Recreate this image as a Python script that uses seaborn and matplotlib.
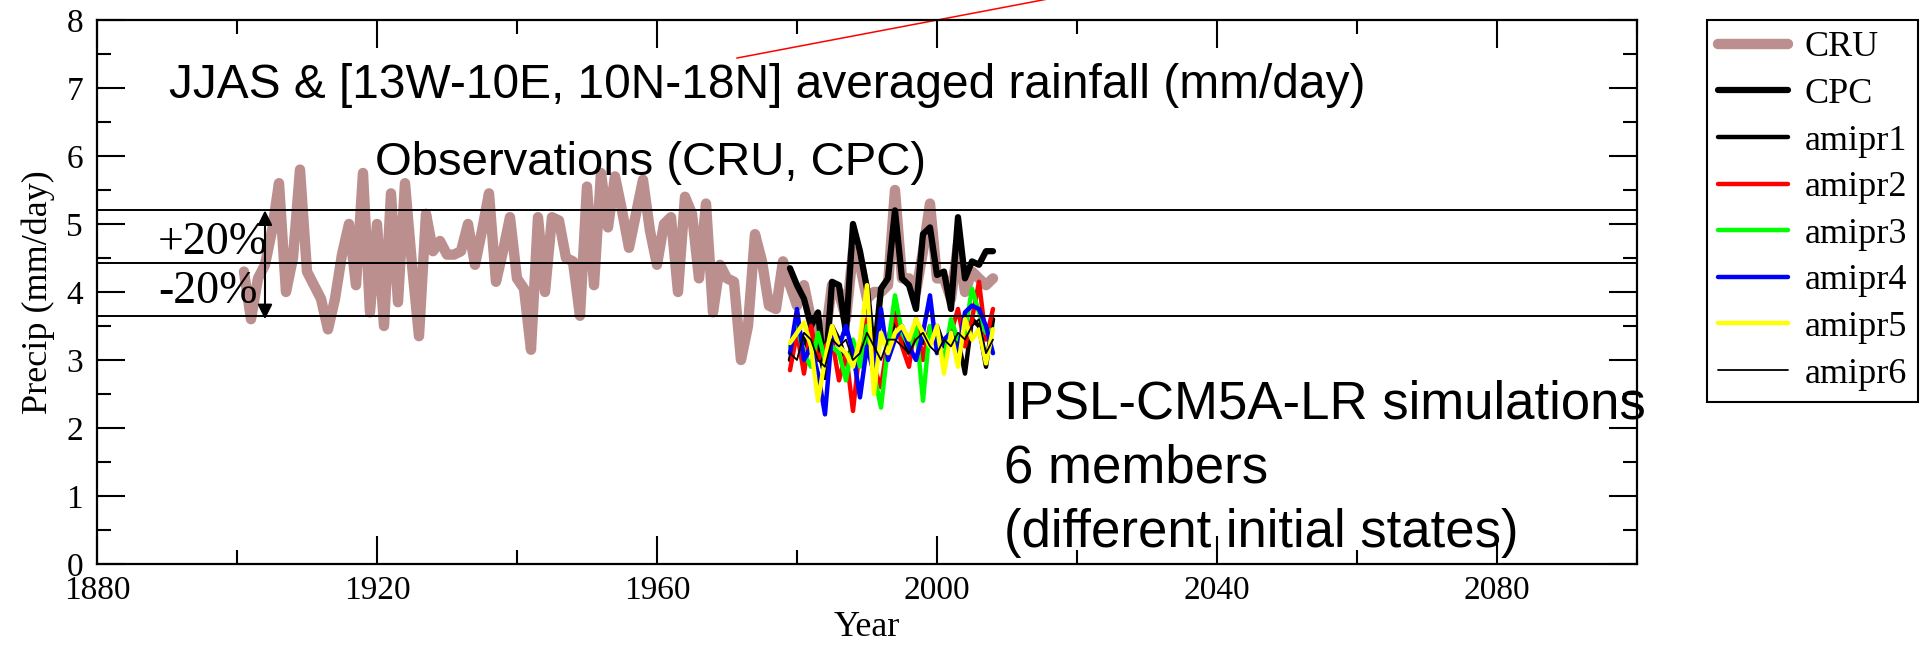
import seaborn as sns
import matplotlib.pyplot as plt
from matplotlib.ticker import MultipleLocator

# observed JJAS rainfall, CRU 1901-2008 (mm/day)
cru = [4.3, 3.6, 4.2, 4.4, 4.9, 5.6, 4.0, 4.5, 5.8, 4.3,
       4.1, 3.9, 3.45, 3.9, 4.55, 5.0, 4.1, 5.75, 3.7, 5.0,
       3.5, 5.45, 3.85, 5.6, 4.4, 3.35, 5.15, 4.6, 4.75, 4.55,
       4.55, 4.6, 5.0, 4.4, 4.9, 5.45, 4.15, 4.6, 5.1, 4.2,
       4.05, 3.15, 5.1, 4.0, 5.1, 5.05, 4.5, 4.45, 3.65, 5.55,
       4.1, 5.75, 4.95, 5.7, 5.2, 4.65, 5.15, 5.65, 4.9, 4.4,
       5.0, 5.1, 4.0, 5.4, 5.15, 4.2, 5.3, 3.7, 4.4, 4.2,
       4.15, 3.0, 3.5, 4.85, 4.45, 3.8, 3.75, 4.45, 4.1, 3.8,
       4.1, 3.6, 3.4, 3.3, 4.1, 4.0, 3.6, 4.6, 4.4, 3.9,
       4.0, 4.0, 4.1, 5.5, 4.2, 4.2, 4.0, 4.6, 5.3, 4.2,
       4.2, 3.9, 4.7, 4.0, 4.3, 4.2, 4.1, 4.2]
cru_years = list(range(1901, 1901 + len(cru)))

# CPC and the 6 AMIP members, 1979-2008
model_years = list(range(1979, 2009))
cpc = [4.35, 4.1, 3.9, 3.5, 3.7, 2.75, 4.15, 4.1, 3.4, 5.0,
       4.6, 4.05, 3.0, 4.05, 4.2, 5.2, 4.2, 4.1, 3.75, 4.85,
       4.95, 4.25, 4.3, 3.75, 5.1, 4.2, 4.45, 4.4, 4.6, 4.6]
amipr1 = [3.0, 3.45, 3.3, 3.1, 3.2, 2.75, 3.5, 3.3, 3.0, 3.2,
          3.05, 3.3, 2.9, 3.35, 3.2, 3.6, 3.3, 3.1, 3.4, 3.25,
          3.4, 3.5, 3.2, 3.45, 3.3, 2.8, 3.6, 3.5, 2.9, 3.6]
amipr2 = [2.85, 3.4, 2.8, 3.5, 3.0, 3.2, 3.3, 2.7, 3.1, 2.25,
          3.2, 3.6, 2.9, 2.6, 3.3, 3.7, 3.2, 2.9, 3.6, 3.0,
          3.5, 3.3, 3.0, 3.4, 3.75, 3.2, 3.6, 4.15, 3.3, 3.75]
amipr3 = [3.2, 3.5, 3.1, 2.9, 3.4, 3.0, 3.2, 3.1, 2.7, 3.3,
          2.9, 3.5, 2.8, 2.3, 3.2, 3.95, 3.4, 3.2, 3.5, 2.4,
          3.5, 3.3, 3.0, 3.6, 3.3, 3.4, 4.05, 3.7, 3.4, 3.45]
amipr4 = [3.1, 3.75, 3.0, 3.2, 2.8, 2.2, 3.4, 3.2, 3.5, 3.1,
          2.45, 3.2, 2.8, 3.75, 3.0, 3.3, 3.5, 3.2, 3.0, 3.4,
          3.95, 3.1, 3.3, 3.4, 3.1, 3.7, 3.8, 3.75, 3.5, 3.1]
amipr5 = [3.25, 3.4, 3.55, 3.2, 2.4, 3.0, 3.5, 3.2, 3.1, 2.9,
          3.3, 4.1, 2.5, 3.4, 3.1, 3.4, 3.5, 3.3, 3.6, 3.4,
          3.2, 3.5, 2.8, 3.4, 2.9, 3.6, 3.3, 3.45, 2.95, 3.45]
amipr6 = [3.1, 3.0, 3.4, 3.3, 3.0, 2.9, 3.3, 3.2, 3.3, 3.0,
          3.1, 3.4, 3.2, 3.0, 3.3, 3.3, 3.2, 3.1, 3.3, 3.4,
          3.2, 3.1, 3.3, 3.2, 3.4, 3.3, 3.5, 3.6, 3.1, 3.3]

# mean and +/-20% reference levels
ref_levels = [5.2, 4.42, 3.65]

sns.set_theme(style="ticks")
plt.rcParams['font.family'] = ['Liberation Serif', 'DejaVu Serif']
plt.rcParams.update({'text.color': 'black', 'axes.labelcolor': 'black',
                     'xtick.color': 'black', 'ytick.color': 'black',
                     'axes.edgecolor': 'black'})

fig = plt.figure(figsize=(19.32, 6.49), dpi=100)
ax = fig.add_axes([0.0502, 0.131, 0.7971, 0.8382])

sns.lineplot(x=cru_years, y=cru, ax=ax, color='rosybrown', lw=7.5, label='CRU')
sns.lineplot(x=model_years, y=cpc, ax=ax, color='black', lw=4.5, label='CPC')
members = [amipr1, amipr2, amipr3, amipr4, amipr5, amipr6]
colors = ['black', 'red', '#00ff00', 'blue', 'yellow', 'black']
widths = [3.2, 3.2, 3.2, 3.2, 3.2, 1.3]
for i, (vals, c, w) in enumerate(zip(members, colors, widths)):
    sns.lineplot(x=model_years, y=vals, ax=ax, color=c, lw=w, label='amipr%d' % (i + 1))

for lev in ref_levels:
    ax.axhline(lev, color='black', lw=1.4)

ax.annotate('', xy=(1904, ref_levels[0]), xytext=(1904, ref_levels[2] - 0.05),
            arrowprops=dict(arrowstyle='<|-|>', color='black', lw=1.5, mutation_scale=22,
                            shrinkA=0, shrinkB=0))
ax.text(1888.7, 4.72, '+20%', fontsize=33, va='center', ha='left')
ax.text(1888.7, 4.0, '-20%', fontsize=33, va='center', ha='left')

sans = 'Liberation Sans'
ax.text(1890.3, 7.04, 'JJAS & [13W-10E, 10N-18N] averaged rainfall (mm/day)',
        fontsize=34.5, family=sans, va='center', ha='left')
ax.text(1919.7, 5.9, 'Observations (CRU, CPC)', fontsize=34, family=sans, va='center', ha='left')
for txt, yy in zip(['IPSL-CM5A-LR simulations', '6 members', '(different initial states)'],
                   [2.35, 1.40, 0.46]):
    ax.text(2009.6, yy, txt, fontsize=38, family=sans, va='center', ha='left', clip_on=False)

# red pointer line leaving the top of the frame
ax.plot([1971.4, 2020], [7.44, 8.39], color='red', lw=1.1, clip_on=False)

ax.set_xlim(1880, 2100)
ax.set_ylim(0, 8)
ax.xaxis.set_major_locator(MultipleLocator(40))
ax.xaxis.set_minor_locator(MultipleLocator(20))
ax.yaxis.set_major_locator(MultipleLocator(1))
ax.yaxis.set_minor_locator(MultipleLocator(0.5))
ax.tick_params(which='both', direction='in', top=True, right=True, width=1.5, colors='black')
ax.tick_params(which='major', length=20, labelsize=24)
ax.tick_params(which='minor', length=10)
ax.tick_params(axis='y', pad=10)
ax.tick_params(axis='x', pad=8)
for s in ax.spines.values():
    s.set_linewidth(1.6)
    s.set_color('black')

ax.set_xlabel('Year', fontsize=26, labelpad=4)
ax.set_ylabel('Precip (mm/day)', fontsize=26, labelpad=8)

handles, labels = ax.get_legend_handles_labels()
ax.get_legend().remove()
leg = fig.legend(handles, labels, loc='upper left', bbox_to_anchor=(0.8835, 0.969),
                 fontsize=26, frameon=True, fancybox=False, framealpha=1, edgecolor='black',
                 handlelength=1.95, handletextpad=0.45, labelspacing=0.37, borderpad=0.3,
                 borderaxespad=0)
leg.get_frame().set_linewidth(1.5)

fig.savefig('out.png', dpi=100)
